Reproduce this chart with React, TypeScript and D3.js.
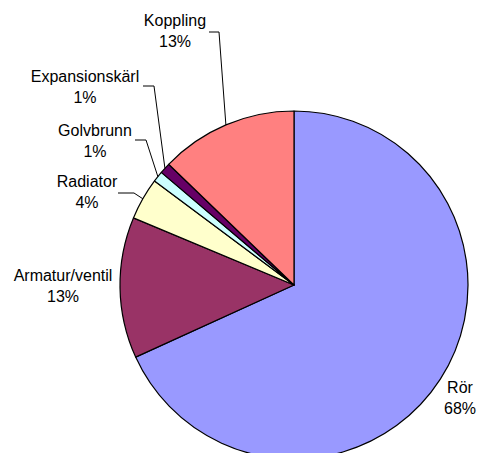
import * as d3 from "d3";
import { useEffect, useRef } from "react";

const categories = ["Rör", "Armatur/ventil", "Radiator", "Golvbrunn", "Expansionskärl", "Koppling"];
const values = [68.2, 13.1, 3.9, 1.0, 1.0, 12.8];
const percentLabels = ["68%", "13%", "4%", "1%", "1%", "13%"];
const colors = ["#9999FF", "#993366", "#FFFFCC", "#CCFFFF", "#660066", "#FF8080"];

// label layout: centre x, first baseline, optional leader elbow (start x, end x, y)
const labelLayout = [
  { x: 460, y: 393, leader: null },
  { x: 63, y: 281, leader: null },
  { x: 87, y: 187, leader: [118, 134, 193] },
  { x: 95, y: 136, leader: [135, 146, 140] },
  { x: 85, y: 82, leader: [143, 154, 86] },
  { x: 175, y: 26, leader: [209, 219, 32] },
];

type Slice = { label: string; value: number; pct: string; color: string };

const W = 480;
const H = 453;
const cx = 294;
const cy = 285;
const radius = 174;

export default function App() {
  const ref = useRef<SVGSVGElement>(null);

  useEffect(() => {
    if (!ref.current) return;
    document.body.style.margin = "0";
    const svg = d3.select(ref.current);
    svg.selectAll("*").remove();

    const data: Slice[] = categories.map((c, i) => ({
      label: c,
      value: values[i],
      pct: percentLabels[i],
      color: colors[i],
    }));

    const pie = d3
      .pie<Slice>()
      .value((d) => d.value)
      .sort(null)
      .startAngle(0)
      .endAngle(2 * Math.PI);

    const arc = d3.arc<d3.PieArcDatum<Slice>>().innerRadius(0).outerRadius(radius);
    const arcs = pie(data);

    const g = svg.append("g").attr("transform", `translate(${cx},${cy})`);

    g.selectAll("path")
      .data(arcs)
      .enter()
      .append("path")
      .attr("d", arc)
      .attr("fill", (d) => d.data.color)
      .attr("stroke", "#000")
      .attr("stroke-width", 1.2)
      .attr("stroke-linejoin", "round");

    // leader lines
    arcs.forEach((d, i) => {
      const lay = labelLayout[i];
      if (!lay.leader) return;
      const mid = (d.startAngle + d.endAngle) / 2;
      const ex = cx + radius * Math.sin(mid);
      const ey = cy - radius * Math.cos(mid);
      const [x0, x1, y] = lay.leader;
      svg
        .append("polyline")
        .attr("points", `${x0},${y} ${x1},${y} ${ex},${ey}`)
        .attr("fill", "none")
        .attr("stroke", "#000")
        .attr("stroke-width", 1);
    });

    const labels = svg
      .selectAll("text.lbl")
      .data(arcs)
      .enter()
      .append("text")
      .attr("class", "lbl")
      .attr("text-anchor", "middle")
      .attr("font-family", "Liberation Sans, Arial, sans-serif")
      .attr("font-size", "16px")
      .attr("fill", "#000");

    labels
      .append("tspan")
      .attr("x", (d, i) => labelLayout[i].x)
      .attr("y", (d, i) => labelLayout[i].y)
      .text((d) => d.data.label);

    labels
      .append("tspan")
      .attr("x", (d, i) => labelLayout[i].x)
      .attr("y", (d, i) => labelLayout[i].y + 21)
      .text((d) => d.data.pct);
  }, []);

  return (
    <svg
      ref={ref}
      width={W}
      height={H}
      style={{ display: "block", background: "#fff" }}
    />
  );
}
